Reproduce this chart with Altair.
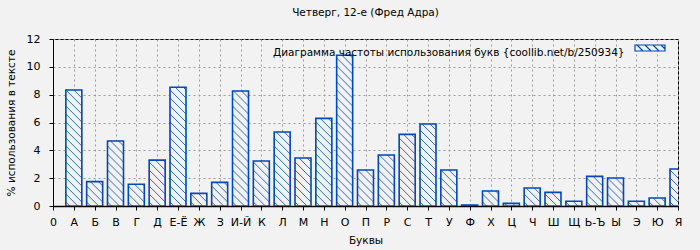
import json
import altair as alt
import pandas as pd

# ---- data ----
letters = ["А", "Б", "В", "Г", "Д", "Е-Ё", "Ж", "З", "И-Й", "К", "Л", "М", "Н", "О", "П",
           "Р", "С", "Т", "У", "Ф", "Х", "Ц", "Ч", "Ш", "Щ", "Ь-Ъ", "Ы", "Э", "Ю", "Я"]
values = [8.33, 1.75, 4.67, 1.56, 3.30, 8.53, 0.91, 1.70, 8.26, 3.23, 5.32, 3.45, 6.30, 10.83, 2.59,
          3.66, 5.15, 5.89, 2.59, 0.07, 1.08, 0.19, 1.29, 0.98, 0.34, 2.13, 2.01, 0.34, 0.57, 2.66]
tick_labels = ["0"] + letters
series_name = "Диаграмма частоты использования букв {coollib.net/b/250934}"

# ---- layout / style ----
PLOT_W, PLOT_H = 625, 167
X_MAX, Y_MAX = 30, 12
BAR_W = 16
HATCH_STEP = 8
BLUE = "#0047ba"
BG = "#f2f2f2"
FONT = "DejaVu Sans"

bars = pd.DataFrame({
    "pos": list(range(1, len(letters) + 1)),
    "letter": letters,
    "value": values,
    "series": series_name,
})

# hatch segments (45° in screen space) derived from the bar values
px_x = PLOT_W / X_MAX
px_y = PLOT_H / Y_MAX
rows = []
for pos, v in zip(bars["pos"], bars["value"]):
    h = v * px_y
    left = pos - (BAR_W / 2) / px_x
    c = HATCH_STEP / 2
    while c < BAR_W + h:
        u0 = max(0.0, c - h)
        u1 = min(BAR_W, c)
        if u1 > u0:
            rows.append({
                "x": left + u0 / px_x, "y": (c - u0) / px_y,
                "x2": left + u1 / px_x, "y2": (c - u1) / px_y,
            })
        c += HATCH_STEP
hatch = pd.DataFrame(rows)

label_expr = json.dumps(tick_labels, ensure_ascii=False) + "[datum.value]"

x_scale = alt.Scale(domain=[0, X_MAX], nice=False, zero=False, padding=0)
y_scale = alt.Scale(domain=[0, Y_MAX], nice=False, padding=0)


def x_axis():
    return alt.Axis(values=list(range(0, X_MAX + 1)), labelExpr=label_expr,
                    labelFlush=False, labelOverlap=False, grid=True,
                    tickSize=4, labelPadding=6, titlePadding=8, domainWidth=1.5)


def y_axis():
    return alt.Axis(values=list(range(0, Y_MAX + 1, 2)), grid=True, labelOverlap=False,
                    tickSize=4, labelPadding=9, titlePadding=10)


# legend swatch: 30x6 box with diagonal hatch (symbol box is 10px => 1 unit = 5px)
swatch_path = ("M-3,-0.6H3V0.6H-3Z"
               "M-2.6,-0.6L-1.4,0.6M-1.0,-0.6L0.2,0.6M0.6,-0.6L1.8,0.6M2.2,-0.6L3,0.2")

bar_layer = alt.Chart(bars).mark_bar(
    orient="vertical", size=BAR_W, stroke=BLUE, strokeWidth=1.6, clip=True
).encode(
    x=alt.X("pos:Q", scale=x_scale, title="Буквы", axis=x_axis()),
    y=alt.Y("value:Q", scale=y_scale, title="% использования в тексте", axis=y_axis()),
    fill=alt.Fill("series:N", scale=alt.Scale(range=[BG]),
                  legend=alt.Legend(title=series_name, titleOrient="left",
                                    orient="none", legendX=220, legendY=3,
                                    symbolType=swatch_path, symbolSize=100,
                                    symbolStrokeColor=BLUE, symbolStrokeWidth=1.2,
                                    labelExpr="''", labelFontSize=1, labelOffset=0,
                                    titleFontWeight="normal", titleFontSize=10.5,
                                    titleColor="black", titlePadding=19,
                                    titleBaseline="top",
                                    titleLimit=500, padding=0)),
)

hatch_layer = alt.Chart(hatch).mark_rule(
    color=BLUE, strokeWidth=0.8, clip=True
).encode(
    x=alt.X("x:Q", scale=x_scale, title="Буквы", axis=x_axis()),
    y=alt.Y("y:Q", scale=y_scale, title="% использования в тексте", axis=y_axis()),
    x2="x2:Q",
    y2="y2:Q",
)

chart = alt.layer(bar_layer, hatch_layer).properties(
    width=PLOT_W,
    height=PLOT_H,
    autosize=alt.AutoSizeParams(type="none"),
    padding={"left": 53, "top": 39, "right": 22, "bottom": 44},
    background=BG,
    title=alt.Title("Четверг, 12-е (Фред Адра)", fontSize=10.5, fontWeight="normal",
                    font=FONT, color="black", offset=15, anchor="middle"),
).configure_view(
    stroke="black", strokeWidth=1, fill=BG
).configure_axis(
    labelFont=FONT, titleFont=FONT, labelFontSize=11, titleFontSize=10.5,
    labelColor="black", titleColor="black", titleFontWeight="normal",
    domainColor="black", tickColor="black",
    gridColor="#9a9a9a", gridDash=[2, 3], gridWidth=1,
).configure_legend(
    titleFont=FONT, labelFont=FONT,
)

chart.save("out.html", embed_options={"renderer": "svg", "actions": False})
